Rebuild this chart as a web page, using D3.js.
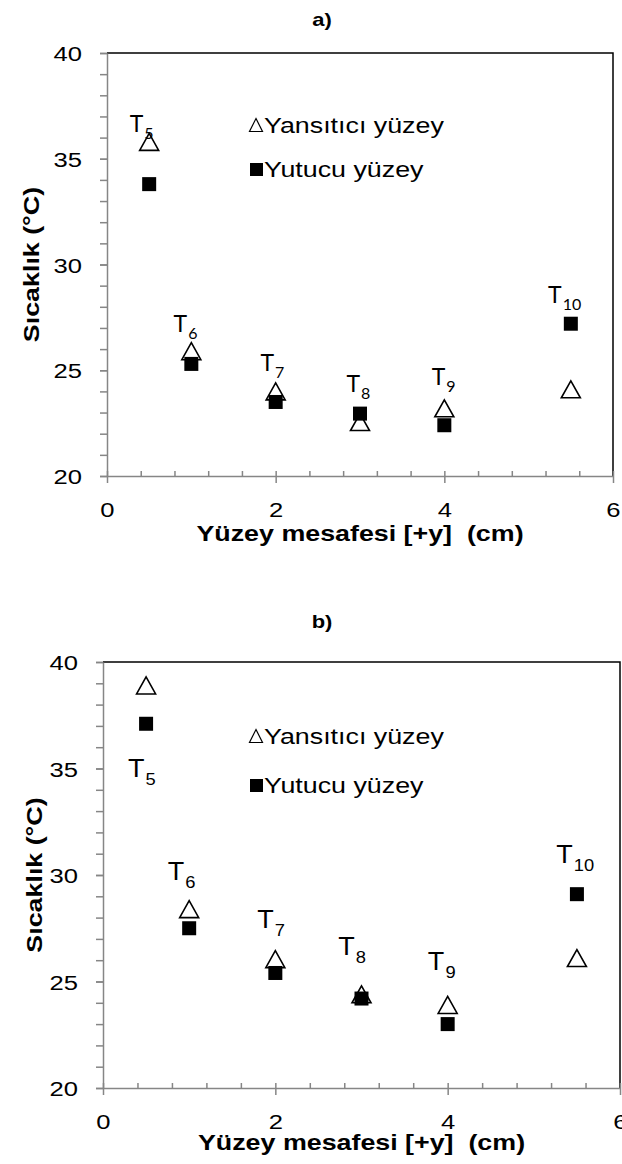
<!DOCTYPE html>
<meta charset="utf-8">
<html>
<head>
<script src="https://d3js.org/d3.v7.min.js"></script>
<style>
  body { margin: 0; background: #fff; }
  text { font-family: "Liberation Sans", Arial, sans-serif; fill: #000; }
</style>
</head>
<body>
<svg id="chart" width="622" height="1164"></svg>
</body>
</html>
<script>

// x positions (cm) and sensor names
var distance = [0.5, 1, 2, 3, 4, 5.5];
var sensors = ["5", "6", "7", "8", "9", "10"];

// panel a)
var reflectA = [35.8, 25.9, 24.0, 22.55, 23.2, 24.1];
var absorbA = [33.8, 25.3, 23.5, 22.95, 22.4, 27.2];
var labelXA = [0.27, 0.79, 1.82, 2.84, 3.85, 5.23];
var labelYA = [36.26, 26.8, 24.96, 23.97, 24.3, 28.18];

// panel b)
var reflectB = [38.9, 28.4, 26.05, 24.4, 23.9, 26.1];
var absorbB = [37.1, 27.5, 25.4, 24.2, 23.0, 29.1];
var labelXB = [0.29, 0.75, 1.79, 2.73, 3.77, 5.26];
var labelYB = [34.6, 29.77, 27.5, 26.24, 25.54, 30.56];

// ticks and texts
var xTicks = [0, 2, 4, 6];
var yTicks = [20, 25, 30, 35, 40];
var legendNames = ["Yansıtıcı yüzey", "Yutucu yüzey"];
var xTitle = "Yüzey mesafesi [+y]  (cm)";
var yTitle = "Sıcaklık (°C)";

var svg = d3.select("#chart");
var SX = 1.22;       // the original picture is stretched sideways
var grey = "#868686";

var trianglePath = "M0,-8.5L9.5,8.5L-9.5,8.5Z";
var smallTriangle = "M0,-6.5L6.5,6.5L-6.5,6.5Z";

var panels = [
  { title: "a)", titleY: 26, left: 107, right: 613, top: 53, bottom: 476,
    reflect: reflectA, absorb: absorbA, labX: labelXA, labY: labelYA,
    labFont: "Lato", labSize: 23, subSize: 16, subDy: 7, labSX: 1,
    legendY: [133, 177], xTitleY: 541, yTitleX: 39 },
  { title: "b)", titleY: 628, left: 103, right: 620, top: 662, bottom: 1088,
    reflect: reflectB, absorb: absorbB, labX: labelXB, labY: labelYB,
    labFont: "Liberation Sans", labSize: 25, subSize: 17, subDy: 8, labSX: 1.08,
    legendY: [744, 793], xTitleY: 1150, yTitleX: 42 }
];

panels.forEach(drawPanel);

function drawPanel(p) {
  var x = d3.scaleLinear().domain([0, 6]).range([p.left, p.right]);
  var y = d3.scaleLinear().domain([20, 40]).range([p.bottom, p.top]);
  var g = svg.append("g");

  // title
  g.append("text")
    .attr("transform", "translate(322," + p.titleY + ") scale(" + SX + ",1)")
    .attr("text-anchor", "middle")
    .style("font-weight", "bold")
    .style("font-size", "18px")
    .text(p.title);

  // top and right frame
  g.append("path")
    .attr("d", "M" + p.left + "," + p.top + "H" + p.right + "V" + p.bottom)
    .attr("fill", "none").attr("stroke", "#000").attr("stroke-width", 1.5);

  // y axis: minor and major ticks, outside
  g.append("g")
    .attr("transform", "translate(" + p.left + ",0)")
    .call(d3.axisLeft(y).tickValues(d3.range(20, 41, 1)).tickSize(7).tickSizeOuter(0).tickFormat(""))
    .call(function (a) { a.select(".domain").remove(); a.selectAll("line").attr("stroke", grey).attr("stroke-width", 1.5); });

  var ya = g.append("g")
    .attr("transform", "translate(" + p.left + ",0)")
    .call(d3.axisLeft(y).tickValues(yTicks).tickSize(7).tickSizeOuter(0).tickFormat(d3.format("d")));
  ya.select(".domain").attr("stroke", grey).attr("stroke-width", 1.5);
  ya.selectAll("line").attr("stroke", grey).attr("stroke-width", 1.5);
  ya.selectAll("text")
    .attr("x", null).attr("dy", "0.36em")
    .attr("transform", "translate(-25,0) scale(" + SX + ",1)")
    .attr("text-anchor", "end")
    .style("font-size", "21px").style("font-family", "Liberation Sans, Arial").attr("fill", "#000");

  // x axis: minor ticks inside, major ticks crossing
  g.append("g")
    .attr("transform", "translate(0," + p.bottom + ")")
    .call(d3.axisBottom(x).tickValues(d3.range(0, 6.01, 0.4)).tickSize(-5).tickSizeOuter(0).tickFormat(""))
    .call(function (a) { a.select(".domain").remove(); a.selectAll("line").attr("stroke", grey).attr("stroke-width", 1.5); });

  var xa = g.append("g")
    .attr("transform", "translate(0," + p.bottom + ")")
    .call(d3.axisBottom(x).tickValues(xTicks).tickSize(7).tickSizeOuter(0).tickFormat(d3.format("d")));
  xa.select(".domain").attr("stroke", grey).attr("stroke-width", 1.5);
  xa.selectAll("line").attr("stroke", grey).attr("stroke-width", 1.5);
  xa.selectAll("text")
    .attr("y", null).attr("dy", null)
    .attr("transform", "translate(0,41) scale(" + SX + ",1)")
    .attr("text-anchor", "middle")
    .style("font-size", "21px").style("font-family", "Liberation Sans, Arial").attr("fill", "#000");

  // axis titles
  g.append("text")
    .attr("transform", "translate(" + ((p.left + p.right) / 2) + "," + p.xTitleY + ") scale(" + SX + ",1)")
    .attr("text-anchor", "middle")
    .style("white-space", "pre")
    .style("font-weight", "bold").style("font-size", "22px")
    .text(xTitle);

  g.append("text")
    .attr("transform", "translate(" + p.yTitleX + "," + ((p.top + p.bottom) / 2) + ") rotate(-90) scale(" + SX + ",1)")
    .attr("text-anchor", "middle")
    .style("font-weight", "bold").style("font-size", "22px")
    .text(yTitle);

  // markers: triangles first, squares on top
  g.append("g").selectAll("path")
    .data(distance)
    .join("path")
      .attr("d", trianglePath)
      .attr("transform", function (d, i) { return "translate(" + x(d) + "," + y(p.reflect[i]) + ")"; })
      .attr("fill", "#fff").attr("stroke", "#000").attr("stroke-width", 1.6)
      .attr("stroke-linejoin", "miter");

  g.append("g").selectAll("rect")
    .data(distance)
    .join("rect")
      .attr("x", function (d) { return x(d) - 7; })
      .attr("y", function (d, i) { return y(p.absorb[i]) - 7; })
      .attr("width", 14).attr("height", 14)
      .attr("fill", "#000");

  // sensor labels T5..T10
  var lab = g.append("g").selectAll("text")
    .data(sensors)
    .join("text")
      .attr("transform", function (d, i) { return "translate(" + x(p.labX[i]) + "," + y(p.labY[i]) + ") scale(" + p.labSX + ",1)"; })
      .style("font-family", p.labFont)
      .style("font-size", p.labSize + "px");
  lab.append("tspan").text("T");
  lab.append("tspan")
    .attr("dy", p.subDy)
    .attr("dx", 1)
    .style("font-size", p.subSize + "px")
    .text(function (d) { return d; });

  // legend
  var lx = 256;
  g.append("path")
    .attr("d", smallTriangle)
    .attr("transform", "translate(" + lx + "," + (p.legendY[0] - 8) + ")")
    .attr("fill", "#fff").attr("stroke", "#000").attr("stroke-width", 1.2);
  g.append("rect")
    .attr("x", lx - 6).attr("y", p.legendY[1] - 14)
    .attr("width", 13).attr("height", 13)
    .attr("fill", "#000");
  legendNames.forEach(function (name, i) {
    g.append("text")
      .attr("transform", "translate(264," + p.legendY[i] + ") scale(" + SX + ",1)")
      .style("font-size", "22px")
      .text(name);
  });
}

</script>
